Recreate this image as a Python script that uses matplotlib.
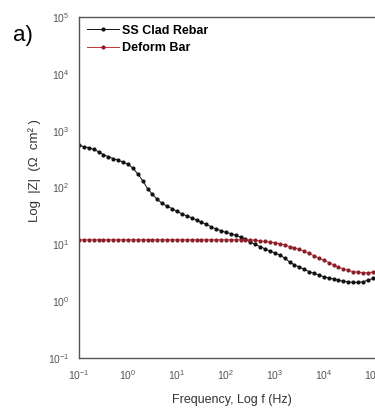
import numpy as np
import matplotlib
matplotlib.use("Agg")
import matplotlib.pyplot as plt

plt.rcParams.update({
    "font.family": "Liberation Sans",
    "mathtext.default": "regular",
    "axes.edgecolor": "#555555",
    "axes.linewidth": 1.0,
})

# measurement grid, 10 points per decade, 0.1 Hz .. 100 kHz
log_f = np.round(np.arange(-1.0, 5.01, 0.1), 1)

# log10 |Z|
ss_clad_logz = [
    2.74, 2.72, 2.70, 2.67, 2.63, 2.58, 2.54, 2.51, 2.48, 2.45,
    2.41, 2.34, 2.24, 2.12, 1.98, 1.88, 1.79, 1.72, 1.67, 1.63,
    1.58, 1.54, 1.50, 1.47, 1.43, 1.39, 1.35, 1.31, 1.27, 1.24,
    1.21, 1.19, 1.16, 1.13, 1.09, 1.04, 1.00, 0.96, 0.92, 0.88,
    0.85, 0.81, 0.76, 0.69, 0.64, 0.60, 0.56, 0.52, 0.49, 0.46,
    0.43, 0.41, 0.39, 0.37, 0.35, 0.34, 0.33, 0.33, 0.34, 0.37,
    0.40,
]
deform_logz = [
    1.08, 1.08, 1.08, 1.08, 1.08, 1.08, 1.08, 1.08, 1.08, 1.08,
    1.08, 1.08, 1.08, 1.08, 1.08, 1.08, 1.08, 1.08, 1.08, 1.08,
    1.08, 1.08, 1.08, 1.08, 1.08, 1.08, 1.08, 1.08, 1.08, 1.08,
    1.08, 1.08, 1.08, 1.08, 1.08, 1.08, 1.07, 1.06, 1.05, 1.04,
    1.03, 1.01, 0.99, 0.96, 0.94, 0.91, 0.88, 0.84, 0.80, 0.76,
    0.72, 0.68, 0.64, 0.60, 0.57, 0.54, 0.52, 0.51, 0.50, 0.50,
    0.51,
]

freq = 10 ** log_f
z_ss = 10 ** np.array(ss_clad_logz)
z_def = 10 ** np.array(deform_logz)

fig = plt.figure(figsize=(3.75, 4.11), dpi=100)
ax = fig.add_axes([79 / 375, 1 - 358 / 411, 306 / 375, 341 / 411])

ax.plot(freq, z_ss, color="#111111", lw=0.7, marker="o", ms=2.0,
        label="SS Clad Rebar")
ax.plot(freq, z_def, color="#c8303a", lw=0.7, marker="o", ms=2.0,
        mfc="#8a1f28", mec="#8a1f28", label="Deform Bar")

ax.set_xscale("log")
ax.set_yscale("log")
ax.set_xlim(0.1, 10 ** 5.25)
ax.set_ylim(0.1, 1e5)
ax.set_xticks([10.0 ** k for k in range(-1, 6)])
ax.set_yticks([10.0 ** k for k in range(-1, 6)])
ax.minorticks_off()
ax.tick_params(length=0, labelsize=7.5, labelcolor="#555555", pad=7)
ax.spines["right"].set_visible(False)

ax.set_xlabel("Frequency, Log f (Hz)", fontsize=9, color="#333333", labelpad=9)
ax.set_ylabel("Log  |Z|  (\u03a9  cm\u00b2 )", fontsize=9.5, color="#333333")
ax.yaxis.set_label_coords(-0.125, 0.55)

ax.legend(loc="upper left", frameon=False, handlelength=2.6,
          handletextpad=0.25, labelspacing=0.45, borderaxespad=0.3,
          borderpad=0.3, prop={"weight": "bold", "size": 9})

fig.text(13 / 375, 1 - 36 / 411, "a)", fontsize=16, va="center", ha="left")

fig.savefig("out.png", dpi=100)
